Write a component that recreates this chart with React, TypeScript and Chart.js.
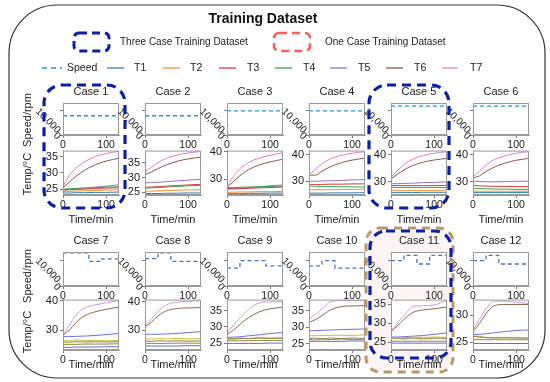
import React, { useEffect, useRef } from "react";
import { Chart, registerables } from "chart.js";

Chart.register(...registerables);

const FONT = "'Liberation Sans', Arial, Helvetica, sans-serif";

// ---------------- DATA ----------------
const caseLabels = ["Case 1", "Case 2", "Case 3", "Case 4", "Case 5", "Case 6", "Case 7", "Case 8", "Case 9", "Case 10", "Case 11", "Case 12"];
const seriesNames = ["T1", "T2", "T3", "T4", "T5", "T6", "T7"];
const timeTicks = [0, 100];
const timeMax = 130;
const speedMax = 13300;
const speedTicks = [0, 10000];
const speedTickLabels = ["0", "10,000"];
const tempTimes = [0, 15, 30, 50, 75, 100, 130];

const speedTimes = [
  [0, 130], [0, 130], [0, 130], [0, 130], [0, 130], [0, 130],
  [0, 60, 90, 130],
  [0, 30, 60, 130],
  [0, 30, 90, 130],
  [0, 30, 60, 130],
  [0, 30, 60, 90, 130],
  [0, 30, 60, 130],
];
const speedLevels = [
  [8000, 8000], [8000, 8000], [10000, 10000], [10000, 10000], [12000, 12000], [12000, 12000],
  [13000, 9600, 10600, 10600],
  [10700, 13000, 9600, 9600],
  [7000, 9900, 7900, 7900],
  [7900, 9900, 7000, 7000],
  [9900, 12000, 8600, 12000, 12000],
  [9900, 12000, 8600, 8600],
];

const tempMin = [23.3, 24.1, 24.3, 24.8, 25.1, 25.1, 23.3, 23.1, 23.0, 23.2, 23.0, 23.6];
const tempMax = [36.8, 39.1, 40.4, 41.6, 41.6, 41.6, 40.3, 40.7, 38.3, 38.3, 36.2, 32.9];
const tempTicks = [[25, 30, 35], [25, 30, 35], [30, 40], [30, 40], [30, 40], [30, 40], [30, 40], [30, 40], [25, 30, 35], [25, 30, 35], [25, 30, 35], [25, 30]];

const T1 = [
  [23.9, 23.9, 24.0, 24.0, 24.1, 24.1, 24.2],
  [24.6, 24.6, 24.6, 24.7, 24.7, 24.8, 24.8],
  [24.8, 24.8, 24.8, 24.9, 24.9, 25.0, 25.0],
  [25.5, 25.5, 25.5, 25.6, 25.6, 25.6, 25.7],
  [26.0, 26.0, 26.0, 26.0, 26.1, 26.1, 26.1],
  [26.0, 26.0, 26.0, 26.0, 26.0, 26.0, 26.0],
  [24.2, 24.2, 24.3, 24.3, 24.3, 24.4, 24.4],
  [24.5, 24.5, 24.5, 24.5, 24.5, 24.6, 24.6],
  [25.0, 25.0, 25.0, 25.0, 25.0, 25.1, 25.1],
  [25.8, 25.8, 25.8, 25.8, 25.8, 25.9, 25.9],
  [24.8, 24.8, 24.8, 24.8, 24.8, 24.8, 24.8],
  [24.8, 24.8, 24.8, 24.8, 24.8, 24.8, 24.8],
];
const T2 = [
  [24.4, 24.4, 24.5, 24.6, 24.7, 24.8, 24.9],
  [25.4, 25.4, 25.5, 25.6, 25.7, 25.8, 25.9],
  [25.3, 25.3, 25.4, 25.4, 25.5, 25.5, 25.6],
  [26.8, 26.8, 26.8, 26.8, 26.9, 26.9, 27.0],
  [26.7, 26.7, 26.7, 26.8, 26.8, 26.8, 26.9],
  [26.5, 26.5, 26.5, 26.5, 26.5, 26.5, 26.5],
  [25.2, 25.2, 25.2, 25.3, 25.3, 25.3, 25.4],
  [25.4, 25.4, 25.4, 25.4, 25.5, 25.5, 25.5],
  [25.8, 25.8, 25.8, 25.8, 25.9, 25.9, 25.9],
  [26.4, 26.2, 26.5, 26.3, 26.5, 26.3, 26.5],
  [25.3, 25.3, 25.3, 25.3, 25.3, 25.3, 25.3],
  [25.5, 25.5, 25.5, 25.5, 25.5, 25.5, 25.5],
];
const T3 = [
  [24.8, 24.9, 25.0, 25.1, 25.3, 25.4, 25.5],
  [26.7, 26.8, 26.9, 27.1, 27.3, 27.5, 27.7],
  [26.5, 26.5, 26.6, 26.7, 26.9, 27.0, 27.2],
  [28.8, 28.8, 28.8, 28.9, 28.9, 29.0, 29.0],
  [28.6, 28.6, 28.6, 28.6, 28.6, 28.6, 28.7],
  [28.6, 28.5, 28.4, 28.3, 28.3, 28.2, 28.2],
  [26.0, 25.9, 26.1, 26.0, 26.1, 26.0, 26.1],
  [26.2, 26.1, 26.3, 26.2, 26.3, 26.2, 26.3],
  [26.4, 26.3, 26.5, 26.4, 26.6, 26.5, 26.6],
  [26.6, 26.8, 26.5, 26.8, 26.6, 26.8, 26.6],
  [26.0, 26.1, 25.9, 26.1, 25.9, 26.1, 26.0],
  [26.1, 26.0, 25.9, 25.8, 25.9, 25.8, 25.8],
];
const T4 = [
  [25.1, 25.2, 25.3, 25.4, 25.5, 25.7, 25.8],
  [26.4, 26.5, 26.6, 26.8, 27.0, 27.2, 27.4],
  [27.0, 27.0, 27.1, 27.2, 27.3, 27.4, 27.5],
  [28.2, 28.1, 28.0, 28.0, 27.9, 27.9, 27.8],
  [28.0, 27.9, 27.9, 27.9, 27.9, 27.9, 27.9],
  [27.6, 27.5, 27.4, 27.3, 27.3, 27.2, 27.2],
  [26.6, 26.4, 26.7, 26.5, 26.6, 26.4, 26.6],
  [27.0, 26.9, 27.1, 27.0, 27.1, 27.0, 27.1],
  [26.6, 26.4, 26.7, 26.5, 26.8, 26.6, 26.8],
  [27.5, 27.5, 27.5, 27.6, 27.6, 27.6, 27.7],
  [26.2, 26.3, 26.2, 26.4, 26.3, 26.4, 26.3],
  [26.2, 26.1, 25.9, 25.9, 25.8, 25.9, 25.8],
];
const T5 = [
  [24.9, 25.0, 25.2, 25.4, 25.7, 26.0, 26.4],
  [28.2, 28.3, 28.4, 28.6, 28.9, 29.1, 29.4],
  [26.6, 26.7, 26.8, 27.0, 27.3, 27.6, 28.0],
  [30.0, 30.0, 30.1, 30.2, 30.3, 30.5, 30.6],
  [29.3, 29.3, 29.4, 29.5, 29.7, 29.8, 30.0],
  [30.3, 30.1, 30.0, 30.0, 30.1, 30.2, 30.2],
  [27.8, 27.8, 27.9, 28.0, 28.2, 28.5, 28.9],
  [28.6, 28.6, 28.6, 28.7, 28.9, 29.2, 29.5],
  [26.8, 26.9, 27.0, 27.3, 27.6, 28.0, 28.3],
  [29.0, 29.0, 29.1, 29.2, 29.3, 29.4, 29.5],
  [26.4, 26.4, 26.5, 26.6, 26.8, 27.1, 27.5],
  [26.4, 26.5, 26.6, 26.8, 27.0, 27.2, 27.3],
];
const T6 = [
  [25.5, 27.3, 29.0, 30.8, 32.5, 33.6, 34.5],
  [31.0, 31.9, 33.0, 34.3, 35.5, 36.3, 36.9],
  [27.0, 29.2, 31.3, 33.5, 35.2, 36.3, 37.3],
  [32.3, 32.3, 33.8, 35.5, 37.0, 38.0, 38.8],
  [31.2, 32.8, 34.4, 36.0, 37.3, 38.1, 38.7],
  [31.5, 32.2, 33.8, 35.5, 37.0, 38.0, 38.7],
  [28.3, 30.0, 32.5, 34.8, 36.2, 37.0, 37.8],
  [31.2, 32.8, 35.0, 36.8, 37.6, 37.8, 37.9],
  [27.7, 29.0, 30.8, 32.8, 34.6, 35.5, 36.0],
  [31.5, 32.3, 33.5, 35.2, 36.2, 36.4, 36.5],
  [28.0, 29.3, 31.0, 32.8, 33.5, 33.8, 34.3],
  [27.0, 28.5, 30.3, 31.8, 32.0, 32.0, 32.0],
];
const T7 = [
  [26.0, 29.3, 31.5, 33.4, 35.0, 35.9, 36.6],
  [31.9, 33.5, 35.0, 36.5, 37.6, 38.3, 38.8],
  [27.3, 31.0, 33.8, 36.0, 37.7, 38.7, 39.6],
  [32.5, 34.5, 36.6, 38.5, 39.8, 40.6, 41.2],
  [31.8, 34.2, 36.4, 38.4, 39.8, 40.6, 41.2],
  [31.8, 34.0, 36.2, 38.3, 39.7, 40.6, 41.2],
  [28.6, 31.8, 35.0, 37.5, 38.5, 39.2, 40.0],
  [31.5, 34.0, 36.6, 38.9, 39.8, 40.1, 40.3],
  [28.3, 30.5, 32.8, 35.3, 37.3, 37.6, 37.7],
  [32.5, 33.8, 35.5, 37.6, 38.0, 38.0, 38.0],
  [27.8, 30.0, 32.0, 34.3, 34.6, 34.8, 36.0],
  [27.3, 29.3, 31.2, 32.6, 32.6, 32.4, 32.2],
];
const allTemps = [T1, T2, T3, T4, T5, T6, T7];

// ---------------- STYLE / LAYOUT ----------------
const row1Colors = ["#2f7fb8", "#ff8c2a", "#d83a3a", "#33a852", "#9a70c8", "#8c564b", "#e67cc4"];
const row2Colors = ["#5a6fc8", "#8f8a3c", "#9a7a48", "#c4c23a", "#6d6fdc", "#8c6450", "#d39ad8"];
const speedColors = ["#1f9cc4", "#4a74bd"];

const PW = 56;
const colLeft = [63, 145, 227, 309, 391, 473];
const rows = [
  { speedTop: 103, speedH: 32, tempTop: 150, tempH: 45, titleY: 92, timeY: 220, speedLabelY: 120, tempLabelY: 174 },
  { speedTop: 252, speedH: 34, tempTop: 299, tempH: 51, titleY: 241, timeY: 365, speedLabelY: 276, tempLabelY: 332 },
];
const PAD_L = 40, PAD_R = 8, PAD_T = 8, PAD_B = 16;
const xTickFont = { family: FONT, size: 10.5 };
const yTickFont = { family: FONT, size: 11 };

const framePlugin = {
  id: "frame",
  beforeDraw(chart: any) {
    const { ctx, chartArea: a } = chart;
    ctx.save();
    ctx.fillStyle = "#ffffff";
    ctx.fillRect(a.left, a.top, a.right - a.left, a.bottom - a.top);
    ctx.restore();
  },
  afterDraw(chart: any) {
    const { ctx, chartArea: a } = chart;
    ctx.save();
    ctx.strokeStyle = "#9a9a9a";
    ctx.lineWidth = 1;
    ctx.strokeRect(a.left + 0.5, a.top + 0.5, a.right - a.left - 1, a.bottom - a.top - 1);
    ctx.restore();
  },
};

const rotLabelPlugin = {
  id: "rotLabels",
  afterDraw(chart: any) {
    const s = chart.scales.y;
    const ctx = chart.ctx;
    ctx.font = `10px ${FONT}`;
    ctx.fillStyle = "#222";
    speedTicks.forEach((v, i) => {
      const label = speedTickLabels[i];
      const py = s.getPixelForValue(v);
      const L = ctx.measureText(label).width;
      const bw = (L + 6) * Math.SQRT1_2;
      const cx = chart.chartArea.left - 2 - bw / 2;
      const cy = py - 3 + bw / 2;
      ctx.save();
      ctx.translate(cx, cy);
      ctx.rotate(Math.PI / 4);
      ctx.textAlign = "center";
      ctx.textBaseline = "middle";
      ctx.fillText(label, 0, 0);
      ctx.restore();
    });
  },
};

function xScale() {
  return {
    type: "linear",
    min: 0,
    max: timeMax,
    afterBuildTicks: (s: any) => { s.ticks = timeTicks.map((v) => ({ value: v })); },
    afterFit: (s: any) => { s.height = PAD_B; },
    grid: { display: true, drawOnChartArea: false, drawTicks: true, tickLength: 3, color: "#777" },
    border: { display: true, color: "#9a9a9a" },
    ticks: { font: xTickFont, color: "#222", padding: 1, maxRotation: 0, autoSkip: false },
  };
}

function yScale(min: number, max: number, ticks: number[], showLabels: boolean) {
  return {
    type: "linear",
    min,
    max,
    afterBuildTicks: (s: any) => { s.ticks = ticks.map((v) => ({ value: v })); },
    afterFit: (s: any) => { s.width = PAD_L; },
    grid: { display: true, drawOnChartArea: false, drawTicks: true, tickLength: 3, color: "#777" },
    border: { display: true, color: "#9a9a9a" },
    ticks: { display: showLabels, font: yTickFont, color: "#222", padding: 2 },
  };
}

function baseOptions(x: any, y: any) {
  return {
    responsive: false,
    animation: false,
    events: [],
    layout: { padding: { top: PAD_T, right: PAD_R, left: 0, bottom: 0 } },
    plugins: { legend: { display: false }, tooltip: { enabled: false } },
    scales: { x, y },
  };
}

function speedConfig(ci: number) {
  const row = ci < 6 ? 0 : 1;
  return {
    type: "line",
    data: {
      datasets: [
        {
          label: "Speed",
          data: speedTimes[ci].map((t, i) => ({ x: t, y: speedLevels[ci][i] })),
          borderColor: speedColors[row],
          borderWidth: 1.3,
          borderDash: [4, 3],
          pointRadius: 0,
          stepped: true,
          fill: false,
        },
      ],
    },
    options: baseOptions(xScale(), yScale(0, speedMax, speedTicks, false)),
    plugins: [framePlugin, rotLabelPlugin],
  };
}

function tempConfig(ci: number) {
  const row = ci < 6 ? 0 : 1;
  const colors = row === 0 ? row1Colors : row2Colors;
  return {
    type: "line",
    data: {
      datasets: seriesNames.map((name, si) => ({
        label: name,
        data: tempTimes.map((t, i) => ({ x: t, y: allTemps[si][ci][i] })),
        borderColor: colors[si],
        borderWidth: 1,
        pointRadius: 0,
        cubicInterpolationMode: "monotone",
        fill: false,
      })),
    },
    options: baseOptions(xScale(), yScale(tempMin[ci], tempMax[ci], tempTicks[ci], true)),
    plugins: [framePlugin],
  };
}

function Mini({ x, y, w, h, make }: { x: number; y: number; w: number; h: number; make: () => any }) {
  const ref = useRef<HTMLCanvasElement>(null);
  useEffect(() => {
    const chart = new Chart(ref.current as HTMLCanvasElement, make());
    return () => chart.destroy();
  }, []);
  const W = w + PAD_L + PAD_R;
  const H = h + PAD_T + PAD_B;
  return (
    <canvas
      ref={ref}
      width={W}
      height={H}
      style={{ position: "absolute", left: x - PAD_L, top: y - PAD_T, width: W, height: H, zIndex: 1 }}
    />
  );
}

const legendItems = [
  { name: "Speed", x1: 42, x2: 62, tx: 67, dash: true, color: speedColors[0] },
  ...seriesNames.map((n, i) => ({
    name: n,
    x1: [107, 163, 219, 275, 330, 386, 442][i],
    x2: [124, 180, 236, 292, 347, 403, 458][i],
    tx: [134, 190, 247, 303, 358, 414, 470][i],
    dash: false,
    color: row1Colors[i],
  })),
];

export default function App() {
  const cases = caseLabels.map((_, ci) => ci);
  return (
    <div style={{ position: "fixed", left: 0, top: 0, width: 550, height: 382, background: "#fff", overflow: "hidden", fontFamily: FONT }}>
      <svg width={550} height={382} style={{ position: "absolute", left: 0, top: 0, zIndex: 0 }}>
        <rect x={9} y={5} width={536} height={373} rx={48} ry={48} fill="none" stroke="#333" strokeWidth={1.2} />
        <rect x={366} y={228} width={87} height={144} rx={14} ry={14} fill="#fdf4f5" stroke="none" />
      </svg>
      {cases.map((ci) => {
        const r = rows[ci < 6 ? 0 : 1];
        const x = colLeft[ci % 6];
        return (
          <React.Fragment key={ci}>
            <Mini x={x} y={r.speedTop} w={PW} h={r.speedH} make={() => speedConfig(ci)} />
            <Mini x={x} y={r.tempTop} w={PW} h={r.tempH} make={() => tempConfig(ci)} />
          </React.Fragment>
        );
      })}
      <svg width={550} height={382} style={{ position: "absolute", left: 0, top: 0, zIndex: 2 }}>
        <text x={263} y={19} textAnchor="middle" dominantBaseline="middle" fontSize={14} fontWeight="bold" fontFamily={FONT} fill="#111">Training Dataset</text>
        <rect x={74} y={33} width={35} height={18} rx={5} fill="none" stroke="#0d1fa8" strokeWidth={3} strokeDasharray="8 5" />
        <text x={120} y={42} dominantBaseline="middle" fontSize={10} fontFamily={FONT} fill="#222">Three Case Training Dataset</text>
        <rect x={274} y={33} width={36} height={18} rx={5} fill="none" stroke="#ff5a5a" strokeWidth={2.5} strokeDasharray="8 5" />
        <text x={325} y={42} dominantBaseline="middle" fontSize={10} fontFamily={FONT} fill="#222">One Case Training Dataset</text>
        {legendItems.map((it) => (
          <g key={it.name}>
            <line x1={it.x1} x2={it.x2} y1={68} y2={68} stroke={it.color} strokeWidth={1.3} strokeDasharray={it.dash ? "5 4" : undefined} />
            <text x={it.tx} y={68} dominantBaseline="middle" fontSize={10.5} fontFamily={FONT} fill="#222">{it.name}</text>
          </g>
        ))}
        {cases.map((ci) => {
          const r = rows[ci < 6 ? 0 : 1];
          const cx = colLeft[ci % 6] + PW / 2;
          return (
            <g key={"t" + ci}>
              <text x={cx} y={r.titleY} textAnchor="middle" dominantBaseline="middle" fontSize={11} fontFamily={FONT} fill="#222">{caseLabels[ci]}</text>
              <text x={cx} y={r.timeY} textAnchor="middle" dominantBaseline="middle" fontSize={11} fontFamily={FONT} fill="#222">Time/min</text>
            </g>
          );
        })}
        {rows.map((r, ri) => (
          <g key={"r" + ri}>
            <text x={28} y={r.speedLabelY} transform={`rotate(-90 28 ${r.speedLabelY})`} textAnchor="middle" dominantBaseline="middle" fontSize={11} fontFamily={FONT} fill="#222">Speed/rpm</text>
            <text x={28} y={r.tempLabelY} transform={`rotate(-90 28 ${r.tempLabelY})`} textAnchor="middle" dominantBaseline="middle" fontSize={11} fontFamily={FONT} fill="#222">Temp/°C</text>
          </g>
        ))}
        <rect x={44} y={85} width={81} height={123} rx={18} fill="none" stroke="#0d1fa8" strokeWidth={3.2} strokeDasharray="9 6" />
        <rect x={369} y={85} width={80} height={123} rx={18} fill="none" stroke="#0d1fa8" strokeWidth={3.2} strokeDasharray="9 6" />
        <rect x={366} y={228} width={87} height={144} rx={14} fill="none" stroke="#b89a6a" strokeWidth={3} strokeDasharray="8 6" />
        <rect x={370} y={231} width={81} height={127} rx={16} fill="none" stroke="#0d1fa8" strokeWidth={3.2} strokeDasharray="9 6" />
      </svg>
    </div>
  );
}
